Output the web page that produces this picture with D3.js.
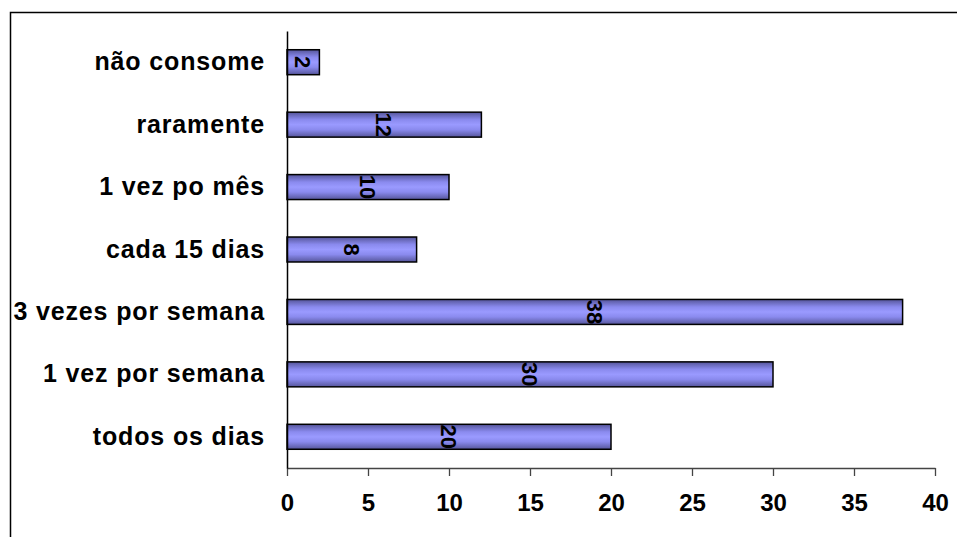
<!DOCTYPE html>
<html>
<head>
<meta charset="utf-8">
<script src="https://cdn.jsdelivr.net/npm/d3@7"></script>
<style>
  html, body { margin: 0; padding: 0; background: #fff; }
  svg { display: block; }
</style>
</head>
<body>
<svg id="chart" width="957" height="537"></svg>
<script>
// Frequência de consumo (contagem de respostas)
const categories = ["não consome", "raramente", "1 vez po mês", "cada 15 dias",
                    "3 vezes por semana", "1 vez por semana", "todos os dias"];
const values = [2, 12, 10, 8, 38, 30, 20];
const xTicks = [0, 5, 10, 15, 20, 25, 30, 35, 40];

const svg = d3.select("#chart");
const font = "'Liberation Sans', Arial, sans-serif";

// outer chart frame (runs off the right and bottom edges)
svg.append("rect")
  .attr("x", 10.5).attr("y", 12.5)
  .attr("width", 1000).attr("height", 600)
  .attr("fill", "#fff").attr("stroke", "#000").attr("stroke-width", 1.5);

const plot = { left: 287, right: 935, top: 31, bottom: 468 };

const x = d3.scaleLinear().domain([0, 40]).range([plot.left, plot.right]);
const y = d3.scaleBand().domain(categories).range([plot.top, plot.bottom]).paddingInner(0.6).paddingOuter(0.3);

// bar shading: dark edges, light middle
const defs = svg.append("defs");
const grad = defs.append("linearGradient").attr("id", "barShade")
  .attr("x1", 0).attr("y1", 0).attr("x2", 0).attr("y2", 1);
[["0%", "#55559a"], ["30%", "#8a8aee"], ["50%", "#9a9aff"], ["70%", "#8a8aee"], ["100%", "#55559a"]]
  .forEach(([o, c]) => grad.append("stop").attr("offset", o).attr("stop-color", c));

// bars
svg.append("g").selectAll("rect")
  .data(categories)
  .join("rect")
  .attr("x", x(0))
  .attr("y", d => y(d))
  .attr("width", (d, i) => x(values[i]) - x(0))
  .attr("height", y.bandwidth())
  .attr("fill", "url(#barShade)")
  .attr("stroke", "#000")
  .attr("stroke-width", 1.5);

// value labels, rotated, centred in each bar
svg.append("g").selectAll("text")
  .data(categories)
  .join("text")
  .attr("transform", (d, i) => `translate(${(x(0) + x(values[i])) / 2},${y(d) + y.bandwidth() / 2}) rotate(90)`)
  .attr("text-anchor", "middle")
  .attr("dy", "0.36em")
  .attr("font-family", font)
  .attr("font-weight", "bold")
  .attr("font-size", 22)
  .attr("fill", "#000")
  .text((d, i) => values[i]);

// x axis
const xAxis = svg.append("g")
  .attr("transform", `translate(0,${plot.bottom})`)
  .call(d3.axisBottom(x).tickValues(xTicks).tickSize(8).tickPadding(18).tickSizeOuter(0));
xAxis.select(".domain").attr("stroke", "#444").attr("stroke-width", 1.3);
xAxis.selectAll(".tick line").attr("stroke", "#444").attr("stroke-width", 1.3);
xAxis.selectAll(".tick text")
  .attr("font-family", font).attr("font-weight", "bold").attr("font-size", 24).attr("fill", "#000");

// y axis line and category labels
const yAxis = svg.append("g")
  .attr("transform", `translate(${plot.left},0)`)
  .call(d3.axisLeft(y).tickSize(0).tickPadding(22));
yAxis.select(".domain").attr("stroke", "#000").attr("stroke-width", 1.5);
yAxis.selectAll(".tick text")
  .attr("font-family", font).attr("font-weight", "bold").attr("font-size", 25).attr("fill", "#000")
  .attr("letter-spacing", 0.85);
</script>
</body>
</html>
